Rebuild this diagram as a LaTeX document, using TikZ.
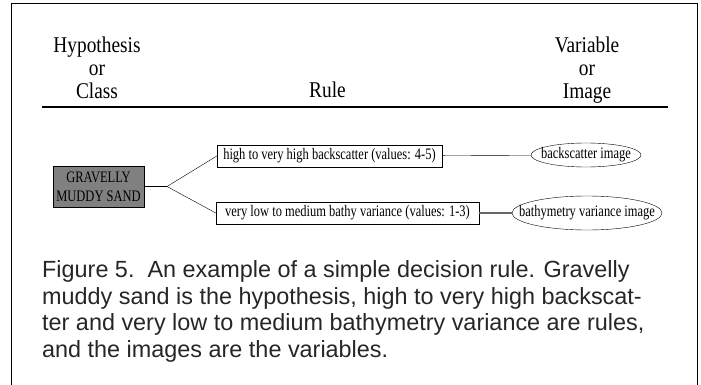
\documentclass[tikz,border=0pt]{standalone}
\usepackage{fontspec}
\setmainfont{Liberation Serif}
\newfontfamily\figfont{Liberation Serif}[FakeStretch=0.86]
\newfontfamily\boxfont{Liberation Serif}[FakeStretch=0.78]
\newfontfamily\capfont{Liberation Sans}
\usetikzlibrary{shapes.geometric}

\begin{document}
\begin{tikzpicture}[x=1pt,y=-1pt,
  head/.style={align=center,inner sep=0pt,anchor=north,
    font=\figfont\fontsize{22.5}{23}\selectfont},
  rulebox/.style={draw,inner sep=0pt,minimum height=22pt,
    font=\boxfont\fontsize{16}{19}\selectfont},
  imgnode/.style={inner sep=0pt,
    font=\boxfont\fontsize{16}{19}\selectfont}]
\useasboundingbox (0,0) rectangle (701,385);
\draw (11,385) -- (11,3) -- (697,3) -- (697,385);
\draw (97,36.6)    node (hyp)  [head]             {Hypothesis\\or\\Class};
\draw (327.5,98)   node (rule) [head,anchor=base] {Rule};
\draw (587,36.6)   node (var)  [head]             {Variable\\or\\Image};
\draw[line width=1.5pt] (42,107) -- (668,107);
\draw (98.5,186.5) node (grav) [draw,fill=gray,minimum width=89pt,minimum height=41pt,
  align=center,font=\boxfont\fontsize{16}{19}\selectfont] {GRAVELLY\\MUDDY SAND};
\draw (167,186.5)  coordinate (fork);
\draw (329.5,156)  node (high) [rulebox,minimum width=225pt] {high to very high backscatter (values: 4-5)};
\draw (347.5,213)  node (low)  [rulebox,minimum width=263pt] {very low to medium bathy variance (values: 1-3)};
\draw (586,155)    node (bsimg) [imgnode,minimum width=110pt,minimum height=24pt] {backscatter image};
\draw (587,213)    node (bvimg) [imgnode,minimum width=150pt,minimum height=34pt] {bathymetry variance image};
\draw (bsimg.center) ellipse [x radius=55, y radius=12];
\draw (bvimg.center) ellipse [x radius=75, y radius=17];
\draw (grav) -- (fork);
\draw (fork) -- (high.west);
\draw (fork) -- (low.west);
\draw (high) -- (bsimg);
\draw[black!60,line width=1.1pt] (low) -- (bvimg);
\draw (42,260.3)   node (cap) [anchor=north west,inner sep=0pt,align=left,text=black!85,
  font=\capfont\fontsize{23.4}{26.7}\selectfont]
  {Figure 5.\ \ An example of a simple decision rule. Gravelly\\
   muddy sand is the hypothesis, high to very high backscat-\\
   ter and very low to medium bathymetry variance are rules,\\
   and the images are the variables.};
\end{tikzpicture}
\end{document}
